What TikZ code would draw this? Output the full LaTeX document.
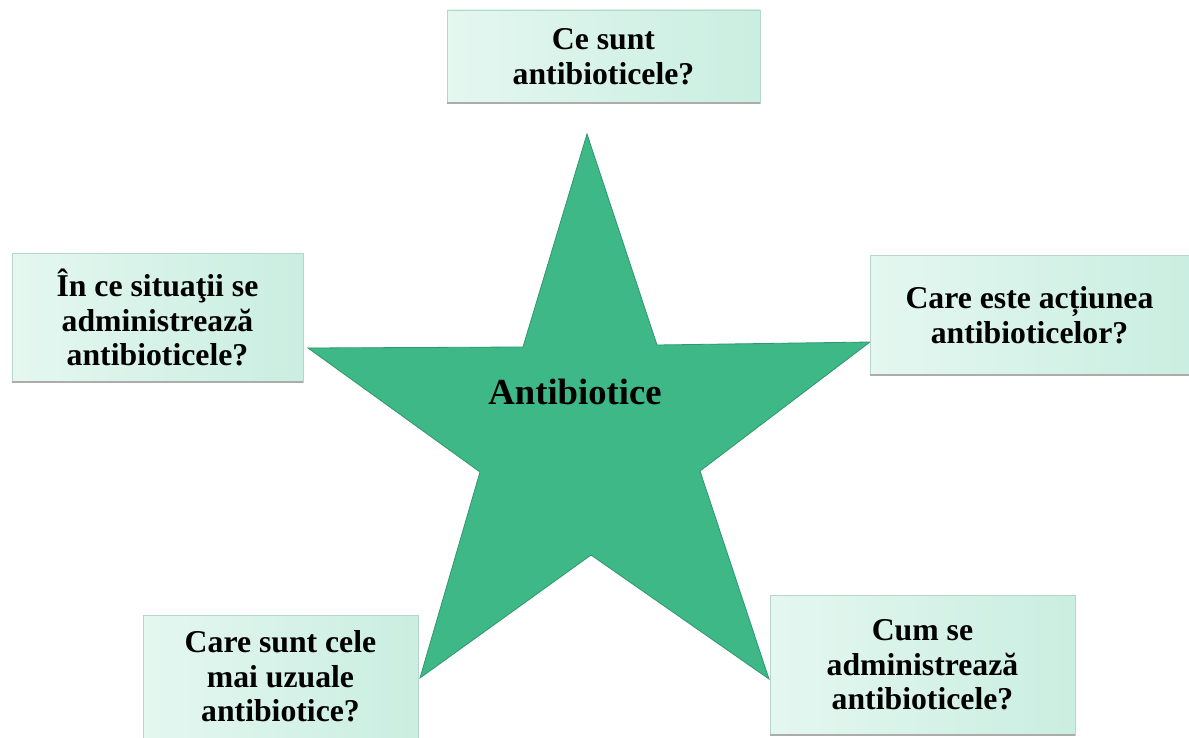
\documentclass[tikz,border=0pt]{standalone}
\usepackage{fontspec}
\setmainfont{Liberation Serif}
\usetikzlibrary{positioning}
\definecolor{stargreen}{RGB}{62,184,135}
\definecolor{staredge}{RGB}{46,152,110}
\definecolor{boxleft}{RGB}{228,247,240}
\definecolor{boxright}{RGB}{202,238,225}

\begin{document}
\begin{tikzpicture}[x=0.75pt,y=-0.75pt,
    question/.style={rectangle, inner sep=0pt, align=center,
      font=\bfseries\fontsize{23.8}{26}\selectfont,
      left color=boxleft, right color=boxright, draw=boxright!90!black, line width=0.2pt},
    title/.style={font=\bfseries\fontsize{27.5}{30}\selectfont}]
  \fill[white] (0,0) rectangle (1189,738);
  \useasboundingbox (0,0) rectangle (1189,738);
  % star
  \filldraw[fill=stargreen, draw=staredge, line width=0.6pt, line join=miter]
    (587,134) -- (657,345) -- (870,342) -- (700,471) -- (769,679) -- (591,555)
    -- (420,678) -- (480,472) -- (308,348) -- (523,347) -- cycle;
  \node[title] (centre) at (575,392) {Antibiotice};
  % questions
  \node[question, minimum width=234.75pt, minimum height=69.75pt] (top) at (603.5,56.5)
    {Ce sunt\\antibioticele?};
  \node[question, minimum width=218.25pt, minimum height=96.75pt] (left) at (157.5,317.5)
    {În ce situaţii se\\administrează\\antibioticele?};
  \node[question, minimum width=239.25pt, minimum height=90pt] (right) at (1029.5,315)
    {Care este acțiunea\\antibioticelor?};
  \node[question, minimum width=206.25pt, minimum height=92.25pt] (lowleft) at (280.5,676.5)
    {Care sunt cele\\mai uzuale\\antibiotice?};
  \node[question, minimum width=228.75pt, minimum height=105pt] (lowright) at (922.5,665)
    {Cum se\\administrează\\antibioticele?};
  \foreach \n in {top,left,right,lowright}
    \draw[gray!65, line width=1.2pt] (\n.south west) -- (\n.south east);
\end{tikzpicture}
\end{document}
